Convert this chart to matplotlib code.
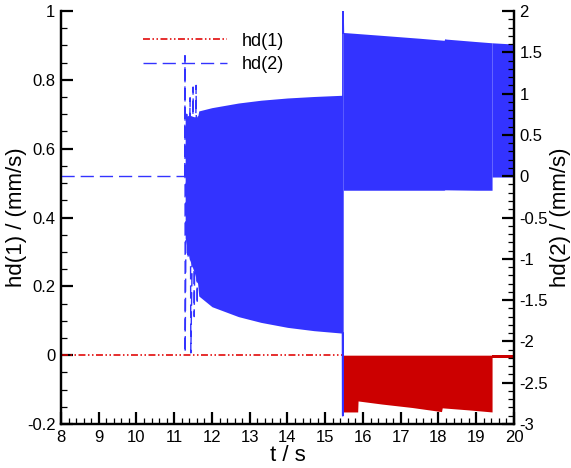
import matplotlib
matplotlib.use("Agg")
import matplotlib.pyplot as plt
from matplotlib.ticker import MultipleLocator, FixedLocator, FixedFormatter

plt.rcParams['font.family'] = ['Liberation Sans', 'DejaVu Sans']
plt.rcParams['lines.scale_dashes'] = False

# hd(1), left axis
hd1_flat_t = [8.0, 15.47]
hd1_flat = [0.0, 0.0]
hd1_band_t = [15.47, 15.86, 15.87, 16.5, 17.3, 18.08, 18.1, 18.8, 19.42]
hd1_band_lo = [-0.165, -0.165, -0.133, -0.142, -0.152, -0.164, -0.153, -0.159, -0.165]
hd1_tail_t = [19.42, 20.0]
hd1_tail_lo = [-0.008, -0.008]

# hd(2), right axis
hd2_flat_t = [8.0, 11.28]
hd2_flat = [0.0, 0.0]
hd2_spike_t = [11.28, 11.285, 11.29, 11.33, 11.37, 11.42, 11.44, 11.47, 11.50, 11.53, 11.58, 11.61, 11.64]
hd2_spike = [0.0, 1.46, -2.14, 0.75, -1.0, 0.95, -2.14, -1.2, 1.08, -1.7, 1.10, -1.55, 0.79]
hd2_a_t = [11.29, 11.40, 11.52, 11.62, 11.65, 12.0, 12.7, 13.3, 14.0, 14.7, 15.46]
hd2_a_hi = [0.72, 0.74, 0.72, 0.72, 0.79, 0.83, 0.886, 0.92, 0.947, 0.965, 0.98]
hd2_a_lo = [-0.75, -1.0, -1.15, -1.3, -1.45, -1.58, -1.70, -1.77, -1.83, -1.87, -1.90]
hd2_jump_t = [15.46, 15.465, 15.47, 15.48]
hd2_jump = [-1.90, -2.90, 2.0, 1.74]
hd2_b_t = [15.48, 16.5, 17.5, 18.15, 18.17, 18.2, 19.0, 19.42]
hd2_b_hi = [1.74, 1.705, 1.67, 1.645, 1.665, 1.66, 1.63, 1.615]
hd2_b_lo = [-0.17, -0.17, -0.17, -0.17, -0.165, -0.165, -0.17, -0.17]
hd2_c_t = [19.42, 20.0]
hd2_c_hi = [1.615, 1.60]
hd2_c_lo = [-0.01, -0.01]

x_ticks = list(range(8, 21))
y1_ticks = [-0.2, 0, 0.2, 0.4, 0.6, 0.8, 1]
y1_labels = ['-0.2', '0', '0.2', '0.4', '0.6', '0.8', '1']
y2_ticks = [-3, -2.5, -2, -1.5, -1, -0.5, 0, 0.5, 1, 1.5, 2]
y2_labels = ['-3', '-2.5', '-2', '-1.5', '-1', '-0.5', '0', '0.5', '1', '1.5', '2']

red = '#e00000'
red_fill = '#cc0000'
blue = '#3333ff'
red_dash = (0, (5.0, 1.8, 1.1, 1.8, 1.1, 1.8))
blue_dash = (0, (9.5, 4.3))

fig = plt.figure(figsize=(5.71, 4.68), dpi=100)
ax = fig.add_axes([0.1068, 0.094, 0.7933, 0.8825])
ax2 = ax.twinx()

# hd(1)
l1, = ax.plot(hd1_flat_t, hd1_flat, color=red, lw=1.15, linestyle=red_dash)
ax.fill_between(hd1_band_t, hd1_band_lo, 0, color=red_fill, lw=0)
ax.fill_between(hd1_tail_t, hd1_tail_lo, 0, color=red_fill, lw=0)

# hd(2)
l2, = ax2.plot(hd2_flat_t, hd2_flat, color=blue, lw=1.0, linestyle=blue_dash)
ax2.plot(hd2_spike_t, hd2_spike, color=blue, lw=1.0, linestyle=blue_dash)
ax2.fill_between(hd2_a_t, hd2_a_lo, hd2_a_hi, color=blue, lw=0)
ax2.plot(hd2_jump_t, hd2_jump, color=blue, lw=1.2)
ax2.fill_between(hd2_b_t, hd2_b_lo, hd2_b_hi, color=blue, lw=0)
ax2.fill_between(hd2_c_t, hd2_c_lo, hd2_c_hi, color=blue, lw=0)

ax.set_xlim(8, 20)
ax.set_ylim(-0.2, 1)
ax2.set_ylim(-3, 2)

ax.xaxis.set_major_locator(FixedLocator(x_ticks))
ax.xaxis.set_minor_locator(MultipleLocator(0.2))
ax.yaxis.set_major_locator(FixedLocator(y1_ticks))
ax.yaxis.set_major_formatter(FixedFormatter(y1_labels))
ax.yaxis.set_minor_locator(MultipleLocator(0.05))
ax2.yaxis.set_major_locator(FixedLocator(y2_ticks))
ax2.yaxis.set_major_formatter(FixedFormatter(y2_labels))
ax2.yaxis.set_minor_locator(MultipleLocator(0.1))

for a in (ax, ax2):
    a.spines['top'].set_visible(False)
    for s in ('left', 'right', 'bottom'):
        a.spines[s].set_linewidth(1.6)
    a.tick_params(which='major', direction='in', length=8.5, width=1.6, labelsize=12, pad=4)
    a.tick_params(which='minor', direction='in', length=4.5, width=0.9)
ax.tick_params(axis='y', which='both', right=False)
ax.tick_params(axis='x', which='both', top=False)

ax.set_xlabel('t / s', fontsize=16, labelpad=0)
ax.set_ylabel('hd(1) / (mm/s)', fontsize=16)
ax2.set_ylabel('hd(2) / (mm/s)', fontsize=16)
ax.yaxis.set_label_coords(-0.075, 0.5)
ax2.yaxis.set_label_coords(1.079, 0.5)

ax2.legend([l1, l2], ['hd(1)', 'hd(2)'], loc='upper left', bbox_to_anchor=(0.166, 0.965),
           frameon=False, fontsize=13, handlelength=4.65, handletextpad=0.8, labelspacing=0.35,
           borderaxespad=0)

fig.savefig('out.png', dpi=100)
